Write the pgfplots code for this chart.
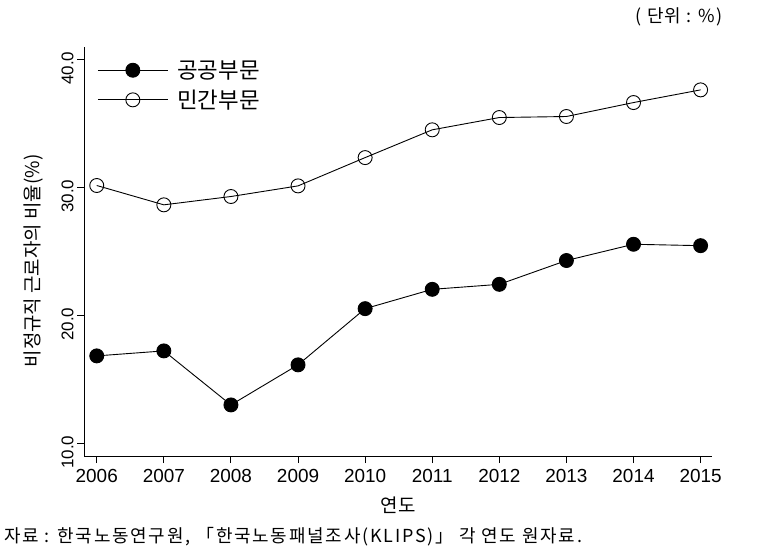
\documentclass[border=0pt]{standalone}
\usepackage{fontspec}
\setmainfont{Liberation Sans}
\newfontfamily\kr{Noto Sans CJK KR}
\newfontfamily\krw[LetterSpace=7.5]{Noto Sans CJK KR}
\newfontfamily\krww[LetterSpace=10]{Noto Sans CJK KR}
\usepackage{pgfplots}
\pgfplotsset{compat=1.18}
\begin{document}
\begin{tikzpicture}
\path[use as bounding box] (0,0) rectangle (764bp,558bp);
\begin{axis}[
  at={(84bp,102bp)}, anchor=south west,
  scale only axis, width=628bp, height=409bp,
  xmin=2005.81, xmax=2015.17, ymin=9.0, ymax=40.95,
  axis x line*=bottom, axis y line*=left,
  axis line style={-, line width=0.9bp},
  xtick={2006,2007,2008,2009,2010,2011,2012,2013,2014,2015},
  ytick={10,20,30,40},
  tick align=outside, major tick length=7bp,
  tick style={black, line width=0.9bp},
  /pgf/number format/assume math mode=true,
  xticklabel style={font=\fontsize{19}{19}\selectfont, /pgf/number format/1000 sep={}, yshift=-3bp},
  yticklabel style={font=\fontsize{17}{17}\selectfont, rotate=90, anchor=south, /pgf/number format/fixed, /pgf/number format/precision=1, /pgf/number format/zerofill, xshift=-9bp},
  xlabel={\kr 연도},
  xlabel style={font=\fontsize{19}{19}\selectfont, at={(axis description cs:0.5,-0.12)}, anchor=center},
  ylabel={\kr 비정규직 근로자의 비율(\%)},
  ylabel style={font=\fontsize{19}{19}\selectfont, at={(axis description cs:-0.081,0.477)}, anchor=center},
  legend style={at={(axis description cs:0.021,0.972)}, anchor=north west, draw=none, fill=none, font=\kr\fontsize{22.5}{22.5}\selectfont, row sep=6bp, inner sep=0pt,
    nodes={inner xsep=9bp}},
  legend cell align=left,
  legend image code/.code={\draw[mark repeat=2,mark phase=2,#1] plot coordinates {(0bp,0bp) (35bp,0bp) (70bp,0bp)};},
]
\addplot[black, line width=0.9bp, mark=*, mark size=7bp, mark options={fill=black, solid}] coordinates {
(2006,16.82) (2007,17.21) (2008,12.99) (2009,16.12) (2010,20.51)
(2011,22.02) (2012,22.41) (2013,24.27) (2014,25.54) (2015,25.43)};
\addlegendentry{공공부문}
\addplot[black, line width=0.9bp, mark=o, mark size=7bp, mark options={fill=white, solid}] coordinates {
(2006,30.13) (2007,28.62) (2008,29.27) (2009,30.10) (2010,32.31)
(2011,34.48) (2012,35.44) (2013,35.52) (2014,36.61) (2015,37.60)};
\addlegendentry{민간부문}
\end{axis}
\node[anchor=north east, inner sep=0pt, font=\krw\fontsize{18}{18}\selectfont] at (723bp,551bp) {( 단위 : \%)};
\node[anchor=west, inner sep=0pt, font=\krww\fontsize{18}{18}\selectfont] at (4bp,21bp) {자료 : 한국노동연구원, 「한국노동패널조사(KLIPS)」 각 연도 원자료.};
\end{tikzpicture}
\end{document}
